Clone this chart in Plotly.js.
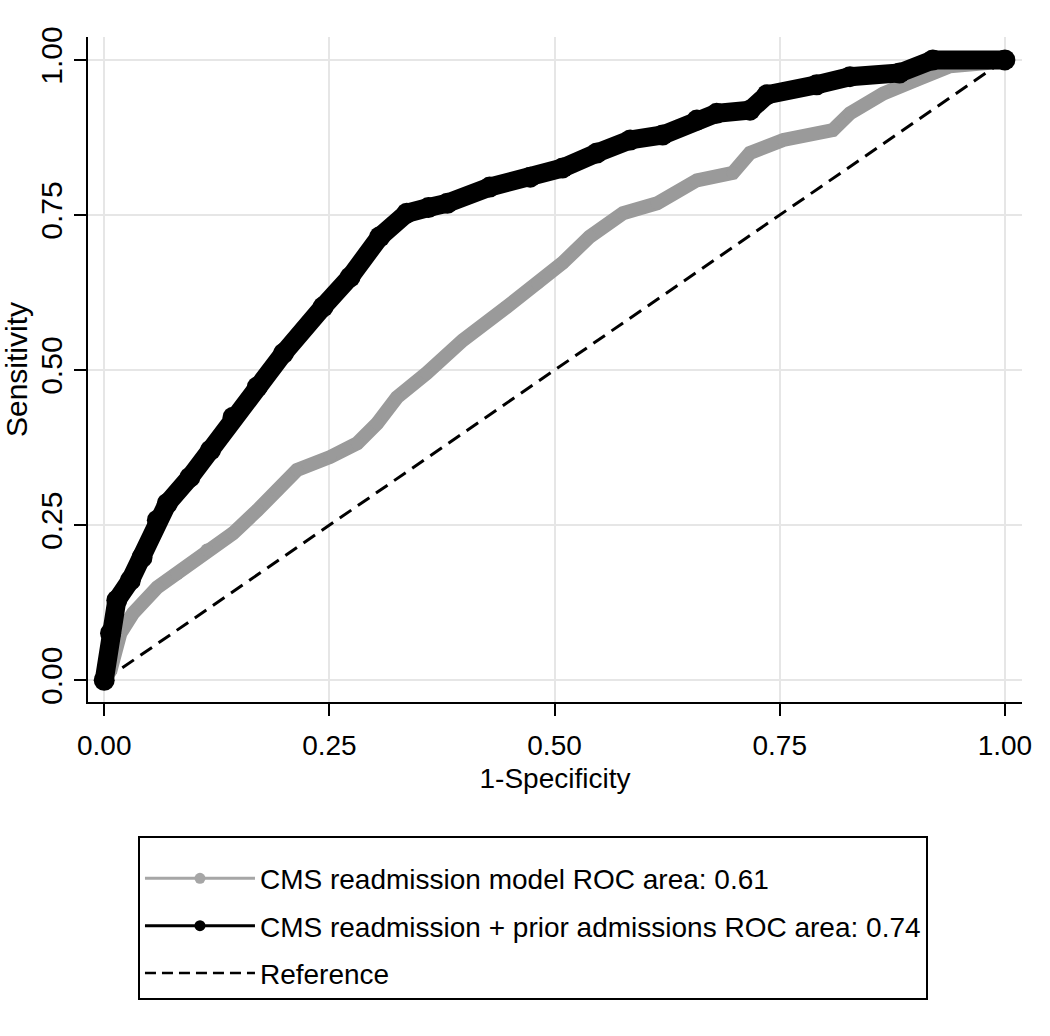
<!DOCTYPE html>
<html>
<head>
<meta charset="utf-8">
<script src="https://cdn.plot.ly/plotly-3.0.1.min.js"></script>
<style>
  body { margin: 0; background: #fff; }
  #roc { width: 1050px; height: 1036px; }
</style>
</head>
<body>
<div id="roc"></div>
<script>
// CMS readmission model
var cms_x = [0, 0.007, 0.018, 0.032, 0.059, 0.081, 0.114, 0.143, 0.170, 0.192, 0.214, 0.251, 0.281, 0.303, 0.325, 0.358, 0.398, 0.447, 0.481, 0.509, 0.539, 0.576, 0.614, 0.658, 0.698, 0.717, 0.754, 0.809, 0.828, 0.865, 0.902, 0.939, 0.980, 1.0];
var cms_y = [0, 0.016, 0.076, 0.108, 0.150, 0.172, 0.210, 0.237, 0.274, 0.306, 0.339, 0.360, 0.382, 0.414, 0.456, 0.495, 0.548, 0.602, 0.640, 0.673, 0.715, 0.753, 0.769, 0.806, 0.818, 0.850, 0.871, 0.887, 0.914, 0.946, 0.968, 0.990, 0.995, 1.0];

// CMS readmission + prior admissions
var prior_x = [0, 0.007, 0.014, 0.029, 0.042, 0.059, 0.070, 0.095, 0.118, 0.143, 0.170, 0.199, 0.243, 0.273, 0.306, 0.336, 0.360, 0.381, 0.428, 0.473, 0.509, 0.547, 0.584, 0.620, 0.658, 0.680, 0.717, 0.736, 0.791, 0.828, 0.883, 0.920, 1.0];
var prior_y = [0, 0.076, 0.129, 0.161, 0.198, 0.258, 0.285, 0.327, 0.371, 0.424, 0.473, 0.527, 0.602, 0.650, 0.715, 0.753, 0.762, 0.769, 0.795, 0.811, 0.826, 0.850, 0.871, 0.879, 0.903, 0.914, 0.919, 0.944, 0.960, 0.973, 0.979, 1.0, 1.0];

var ref_x = [0, 1];
var ref_y = [0, 1];

var tick_vals = [0, 0.25, 0.5, 0.75, 1];
var tick_text = ["0.00", "0.25", "0.50", "0.75", "1.00"];

var names = [
  "CMS readmission model ROC area: 0.61",
  "CMS readmission + prior admissions ROC area: 0.74",
  "Reference",
];

var font = "Liberation Sans, Arial, sans-serif";

Plotly.newPlot(
  "roc",
  [
    {
      x: ref_x,
      y: ref_y,
      mode: "lines",
      showlegend: false,
      line: { color: "black", width: 3, dash: "14px,8px" },
    },
    {
      x: cms_x,
      y: cms_y,
      mode: "lines+markers",
      showlegend: false,
      line: { color: "#9a9a9a", width: 14 },
      marker: { color: "#9a9a9a", size: 13 },
    },
    {
      x: prior_x,
      y: prior_y,
      mode: "lines+markers",
      showlegend: false,
      line: { color: "black", width: 19 },
      marker: { color: "black", size: 21 },
    },
    // legend entries, thin like the original key
    {
      x: [null],
      y: [null],
      mode: "lines+markers",
      name: names[0],
      legendgroup: "a",
      line: { color: "#a6a6a6", width: 3 },
      marker: { color: "#a6a6a6", size: 11 },
    },
    {
      x: [null],
      y: [null],
      mode: "lines+markers",
      name: names[1],
      legendgroup: "b",
      line: { color: "black", width: 3 },
      marker: { color: "black", size: 11 },
    },
    {
      x: [null],
      y: [null],
      mode: "lines",
      name: names[2],
      legendgroup: "c",
      line: { color: "black", width: 2.5, dash: "11px,6px" },
    },
  ],
  {
    width: 1050,
    height: 1036,
    margin: { l: 88, r: 28, t: 37, b: 334 },
    paper_bgcolor: "white",
    plot_bgcolor: "white",
    hovermode: false,
    font: { family: font, color: "black" },
    xaxis: {
      range: [-0.018, 1.019],
      tickvals: tick_vals,
      ticktext: tick_text,
      ticks: "outside",
      ticklen: 12,
      tickwidth: 2,
      tickcolor: "black",
      ticklabelstandoff: 5,
      showline: true,
      linecolor: "black",
      linewidth: 2,
      showgrid: true,
      gridcolor: "#e6e6e6",
      gridwidth: 2,
      zeroline: false,
      tickfont: { size: 28 },
      title: { text: "1-Specificity", font: { size: 28 }, standoff: 9 },
    },
    yaxis: {
      range: [-0.035, 1.037],
      tickvals: tick_vals,
      ticktext: tick_text,
      tickangle: -90,
      ticks: "outside",
      ticklen: 12,
      tickwidth: 2,
      tickcolor: "black",
      showline: true,
      linecolor: "black",
      linewidth: 2,
      showgrid: true,
      gridcolor: "#e6e6e6",
      gridwidth: 2,
      zeroline: false,
      tickfont: { size: 30 },
      title: { text: "Sensitivity", font: { size: 30 }, standoff: 0 },
    },
    showlegend: true,
    legend: {
      x: 0.0535,
      y: -0.2015,
      xanchor: "left",
      yanchor: "top",
      bordercolor: "black",
      borderwidth: 2,
      bgcolor: "white",
      font: { size: 28 },
      itemwidth: 110,
      tracegroupgap: 8,
      title: { text: " ", font: { size: 12 } },
    },
  },
  { displayModeBar: false, staticPlot: true }
);
</script>
</body>
</html>
